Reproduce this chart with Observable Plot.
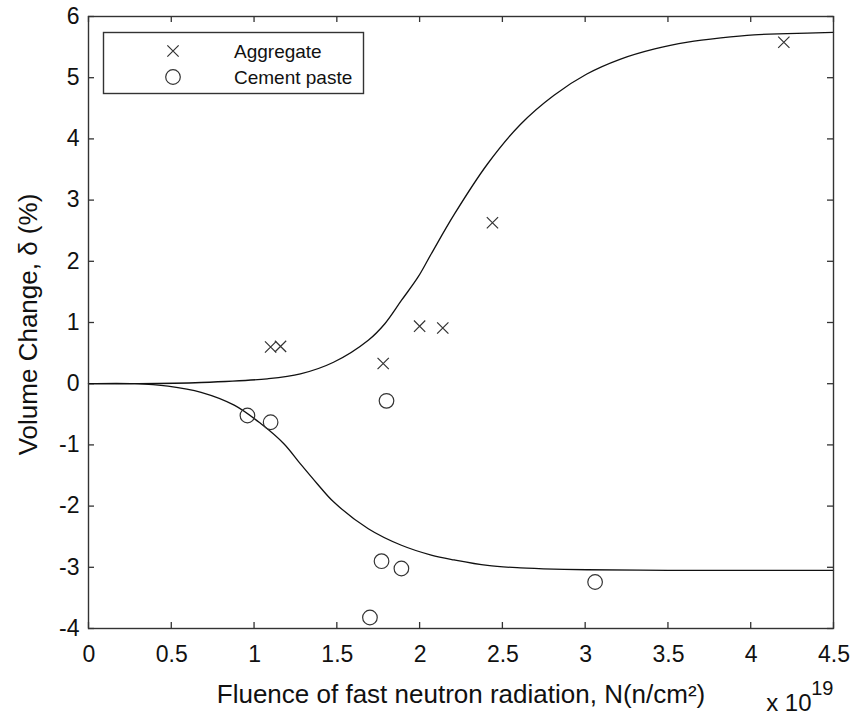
<!DOCTYPE html>
<html><head><meta charset="utf-8">
<script src="https://cdn.jsdelivr.net/npm/d3@7"></script>
<script src="https://cdn.jsdelivr.net/npm/@observablehq/plot@0.6"></script>
<style>
body{margin:0;background:#fff}
#chart{position:relative;width:854px;height:716px}
g[aria-label="ticklabels"] text{letter-spacing:1px}
</style>
</head><body><div id="chart"></div>
<script>
// ---- data (x in units of 10^19 n/cm^2, y in %) ----
const xTicks = [0, 0.5, 1, 1.5, 2, 2.5, 3, 3.5, 4, 4.5];
const yTicks = [-4, -3, -2, -1, 0, 1, 2, 3, 4, 5, 6];

const aggregateX = [1.10, 1.16, 1.78, 2.00, 2.14, 2.44, 4.20];
const aggregateY = [0.60, 0.61, 0.33, 0.94, 0.91, 2.63, 5.58];

const pasteX = [0.96, 1.10, 1.80, 1.77, 1.89, 1.70, 3.06];
const pasteY = [-0.52, -0.63, -0.28, -2.90, -3.02, -3.82, -3.24];

const upperCurveX = [0, 0.30, 0.68, 1.08, 1.28, 1.48, 1.69, 1.79, 1.89, 1.99, 2.07, 2.21, 2.41, 2.61, 2.81, 3.01, 3.21, 3.42, 3.62, 3.82, 4.02, 4.22, 4.50];
const upperCurveY = [0, 0.00, 0.02, 0.08, 0.16, 0.35, 0.71, 0.98, 1.36, 1.74, 2.12, 2.77, 3.59, 4.24, 4.71, 5.06, 5.30, 5.47, 5.58, 5.65, 5.70, 5.72, 5.74];

const lowerCurveX = [0, 0.28, 0.48, 0.68, 0.88, 1.04, 1.18, 1.28, 1.38, 1.48, 1.69, 1.89, 2.07, 2.21, 2.41, 2.61, 2.81, 3.01, 3.50, 4.00, 4.50];
const lowerCurveY = [0, 0.00, -0.04, -0.14, -0.35, -0.65, -0.98, -1.31, -1.63, -1.93, -2.37, -2.64, -2.80, -2.88, -2.97, -3.01, -3.03, -3.04, -3.05, -3.05, -3.05];

const seriesNames = ["Aggregate", "Cement paste"];
const xTitle = "Fluence of fast neutron radiation, N(n/cm²)";
const yTitle = "Volume Change, δ (%)";
const xExponentBase = "x 10";
const xExponent = "19";

// ---- build tables ----
const aggregate = aggregateX.map((x, i) => ({x, y: aggregateY[i]}));
const paste = pasteX.map((x, i) => ({x, y: pasteY[i]}));
const upper = upperCurveX.map((x, i) => ({x, y: upperCurveY[i]}));
const lower = lowerCurveX.map((x, i) => ({x, y: lowerCurveY[i]}));

const W = 854, H = 716;
const mL = 88, mR = 21, mT = 16, mB = 88;
const innerW = W - mL - mR, innerH = H - mT - mB;
const ink = "#333";
const txt = "#111";
const font = "'Liberation Sans', Arial, sans-serif";

const chart = Plot.plot({
  width: W, height: H,
  marginLeft: mL, marginRight: mR, marginTop: mT, marginBottom: mB,
  style: {fontFamily: font, color: txt, background: "#fff"},
  x: {domain: [0, 4.5], axis: null},
  y: {domain: [-4, 6], axis: null},
  marks: [
    // tick labels
    Plot.text(xTicks, {x: d => d, frameAnchor: "bottom", lineAnchor: "middle", dy: 26, dx: 0.5, text: d => String(d), fontSize: 23, fill: txt, ariaLabel: "ticklabels"}),
    Plot.text(yTicks, {y: d => d, frameAnchor: "left", textAnchor: "end", dx: -9, text: d => String(d), fontSize: 23, fill: txt, ariaLabel: "ticklabels"}),
    // inward ticks on all four sides
    Plot.ruleX(xTicks, {x: d => d, insetTop: innerH - 6, stroke: ink, strokeWidth: 1.3}),
    Plot.ruleX(xTicks, {x: d => d, insetBottom: innerH - 6, stroke: ink, strokeWidth: 1.3}),
    Plot.ruleY(yTicks, {y: d => d, insetRight: innerW - 6, stroke: ink, strokeWidth: 1.3}),
    Plot.ruleY(yTicks, {y: d => d, insetLeft: innerW - 6, stroke: ink, strokeWidth: 1.3}),
    Plot.line(upper, {x: "x", y: "y", stroke: "#111", strokeWidth: 1.3, curve: "catmull-rom"}),
    Plot.line(lower, {x: "x", y: "y", stroke: "#111", strokeWidth: 1.3, curve: "catmull-rom"}),
    Plot.dot(aggregate, {x: "x", y: "y", symbol: "times", r: 5.2, stroke: ink, strokeWidth: 1.2}),
    Plot.dot(paste, {x: "x", y: "y", symbol: "circle", r: 7.3, stroke: ink, strokeWidth: 1.2, fill: "none"}),
    Plot.frame({stroke: ink, strokeWidth: 1.4}),
    Plot.text([yTitle], {frameAnchor: "left", textAnchor: "middle", rotate: -90, dx: -60, dy: 2, fontSize: 26, fill: txt}),
    Plot.text([xTitle], {frameAnchor: "bottom", textAnchor: "middle", dy: 74, fontSize: 26, fill: txt}),
    Plot.text([xExponentBase], {frameAnchor: "bottom-right", textAnchor: "end", dx: -22, dy: 82, fontSize: 24, fill: txt}),
    Plot.text([xExponent], {frameAnchor: "bottom-right", textAnchor: "end", dx: 0, dy: 66, fontSize: 20, fill: txt})
  ]
});

// legend (box in upper-left of the frame)
const svg = d3.select(chart);
const lg = svg.append("g").attr("font-family", font).attr("font-size", 19).attr("fill", txt).attr("text-anchor", "start");
lg.append("rect").attr("x", 103.5).attr("y", 32.5).attr("width", 260).attr("height", 61)
  .attr("fill", "#fff").attr("stroke", ink).attr("stroke-width", 1.4);
const mx = 173, r1 = 51, r2 = 77, tx = 234;
lg.append("path").attr("d", d3.symbol(d3.symbolTimes, Math.PI * 5.2 * 5.2)())
  .attr("transform", `translate(${mx},${r1})`).attr("fill", "none").attr("stroke", ink).attr("stroke-width", 1.2);
lg.append("circle").attr("cx", mx).attr("cy", r2).attr("r", 7.3).attr("fill", "none").attr("stroke", ink).attr("stroke-width", 1.2);
lg.append("text").attr("x", tx).attr("y", r1).attr("dy", "0.35em").attr("text-anchor", "start").text(seriesNames[0]);
lg.append("text").attr("x", tx).attr("y", r2).attr("dy", "0.35em").attr("text-anchor", "start").text(seriesNames[1]);

document.getElementById("chart").appendChild(chart);
</script>
</body></html>
